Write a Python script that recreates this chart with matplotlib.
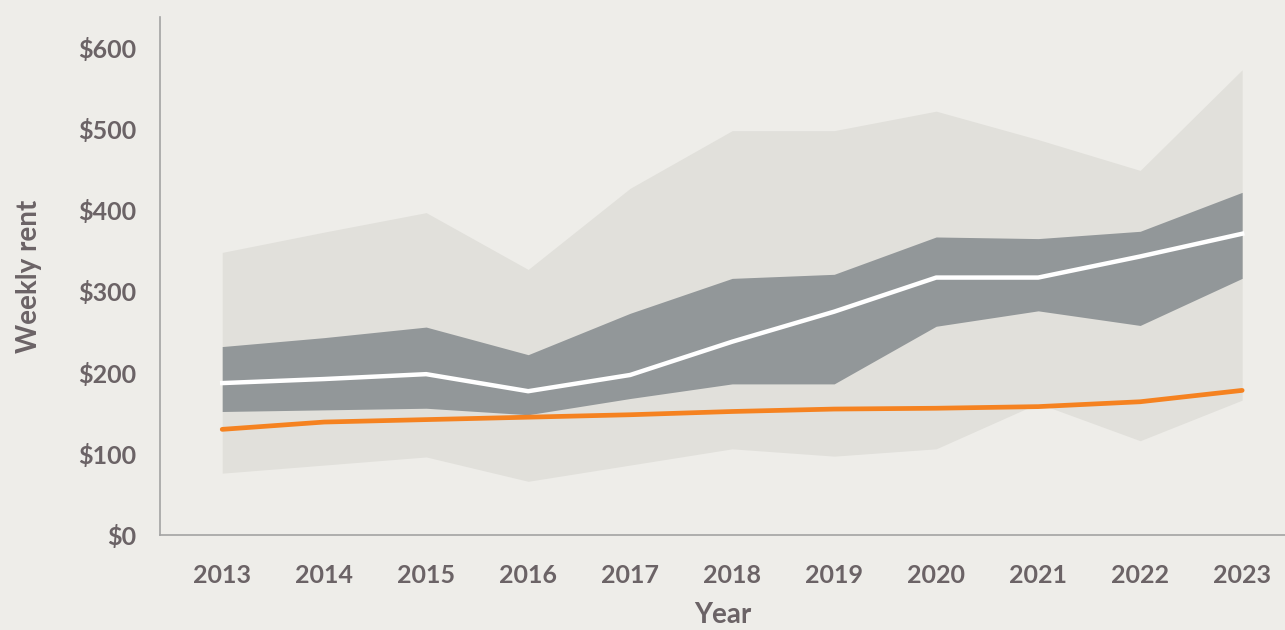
import matplotlib.pyplot as plt
from matplotlib.ticker import FuncFormatter

years = [2013, 2014, 2015, 2016, 2017, 2018, 2019, 2020, 2021, 2022, 2023]

# outer range (light band)
outer_low = [76, 86, 96, 66, 86, 106, 97, 106, 162, 116, 166]
outer_high = [348, 373, 397, 327, 427, 498, 498, 522, 487, 449, 573]
# inner range (dark band)
inner_low = [152, 154, 156, 148, 168, 186, 186, 257, 276, 258, 316]
inner_high = [232, 243, 256, 222, 273, 316, 321, 367, 365, 374, 422]
# median line (white)
median = [187, 192, 198, 177, 197, 238, 275, 317, 317, 343, 371]
# orange line
orange_line = [130, 139, 142, 145, 148, 152, 155, 156, 158, 164, 178]

bg = '#eeede9'
text_col = '#6b6366'

plt.rcParams['font.family'] = ['Lato', 'DejaVu Sans']

fig = plt.figure(figsize=(12.85, 6.3), dpi=100, facecolor=bg)
ax = fig.add_axes([0.1245, 0.151, 0.8755, 0.822])
ax.set_facecolor(bg)

ax.fill_between(years, outer_low, outer_high, color='#e1e0db', linewidth=0, zorder=1)
ax.fill_between(years, inner_low, inner_high, color='#929799', linewidth=0, zorder=2)
ax.plot(years, median, color='white', linewidth=3.2, zorder=3)
ax.plot(years, orange_line, color='#f58220', linewidth=3.4,
        solid_capstyle='round', zorder=4)

ax.set_xlim(2012.39, 2023.42)
ax.set_ylim(0, 638)
ax.set_xticks(years)
ax.set_yticks([0, 100, 200, 300, 400, 500, 600])
ax.yaxis.set_major_formatter(FuncFormatter(lambda v, p: f'${v:.0f}'))

for s in ['top', 'right']:
    ax.spines[s].set_visible(False)
for s in ['left', 'bottom']:
    ax.spines[s].set_color('#a3a3a3')
    ax.spines[s].set_linewidth(1.2)

ax.tick_params(axis='both', length=0, labelsize=18, labelcolor=text_col)
ax.tick_params(axis='y', pad=17)
ax.tick_params(axis='x', pad=21)
for lab in ax.get_xticklabels() + ax.get_yticklabels():
    lab.set_fontweight('bold')

ax.set_xlabel('Year', fontsize=20, color=text_col, fontweight='bold', labelpad=11)
ax.set_ylabel('Weekly rent', fontsize=20, color=text_col, fontweight='bold', labelpad=26)

fig.savefig('out.png', dpi=100, facecolor=bg)
